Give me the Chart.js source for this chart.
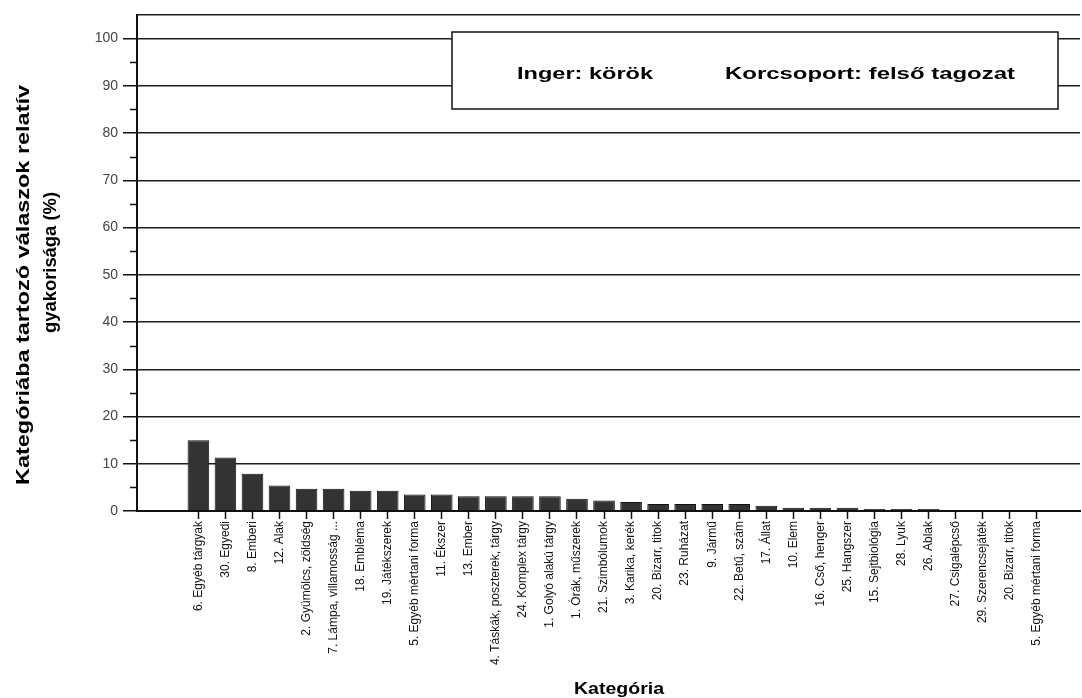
<!DOCTYPE html>
<html>
<head>
<meta charset="utf-8">
<script src="https://cdn.jsdelivr.net/npm/chart.js@4/dist/chart.umd.min.js"></script>
<style>
  html, body { margin: 0; padding: 0; background: #fff; }
  canvas { display: block; }
</style>
</head>
<body>
<canvas id="chart" width="1082" height="698"></canvas>
<script>
// Response categories, sorted by relative frequency
const categories = [
  '6. Egyéb tárgyak', '30. Egyedi', '8. Emberi', '12. Alak',
  '2. Gyümölcs, zöldség', '7. Lámpa, villamosság ...', '18. Embléma', '19. Játékszerek',
  '5. Egyéb mértani forma', '11. Ékszer', '13. Ember', '4. Táskák, poszterek, tárgy',
  '24. Komplex tárgy', '1. Golyó alakú tárgy', '1. Órák, műszerek', '21. Szimbólumok',
  '3. Karika, kerék', '20. Bizarr, titok', '23. Ruházat', '9. Jármű',
  '22. Betű, szám', '17. Állat', '10. Elem', '16. Cső, henger',
  '25. Hangszer', '15. Sejtbiológia', '28. Lyuk', '26. Ablak',
  '27. Csigalépcső', '29. Szerencsejáték', '20. Bizarr, titok', '5. Egyéb mértani forma'
];

// Relative frequency of answers in each category (%)
const frequencies = [
  15.0, 11.3, 7.9, 5.4, 4.7, 4.7, 4.3, 4.3,
  3.5, 3.5, 3.1, 3.1, 3.1, 3.1, 2.6, 2.2,
  1.9, 1.5, 1.5, 1.5, 1.5, 1.1, 0.7, 0.7,
  0.7, 0.4, 0.4, 0.4, 0, 0, 0, 0
];

const yMajorTicks = [0, 10, 20, 30, 40, 50, 60, 70, 80, 90, 100];
const yMinorTicks = [5, 15, 25, 35, 45, 55, 65, 75, 85, 95];

const stimulusLabel = 'Inger: körök';
const groupLabel = 'Korcsoport: felső tagozat';
const yTitleLines = ['Kategóriába tartozó válaszok relatív', 'gyakorisága (%)'];
const xTitle = 'Kategória';

const FONT = '"Liberation Sans", Arial, Helvetica, sans-serif';

// Draws a line of text stretched to an exact run length
function drawFitted(ctx, text, font, x, y, length, vertical) {
  ctx.save();
  ctx.font = font;
  const w = ctx.measureText(text).width;
  ctx.translate(x, y);
  if (vertical) ctx.rotate(-Math.PI / 2);
  ctx.scale(length / w, 1);
  ctx.textAlign = 'left';
  ctx.textBaseline = 'alphabetic';
  ctx.fillStyle = '#000';
  ctx.fillText(text, 0, 0);
  ctx.restore();
}

const decorations = {
  id: 'decorations',
  afterDraw(chart) {
    const ctx = chart.ctx;
    const y = chart.scales.y;

    // short minor ticks at the half-decades
    ctx.save();
    ctx.strokeStyle = '#111';
    ctx.lineWidth = 1.5;
    yMinorTicks.forEach(v => {
      const py = Math.round(y.getPixelForValue(v)) + 0.5;
      ctx.beginPath();
      ctx.moveTo(y.right - 7, py);
      ctx.lineTo(y.right, py);
      ctx.stroke();
    });
    ctx.restore();

    // info box with stimulus and age group
    ctx.save();
    ctx.fillStyle = '#fff';
    ctx.fillRect(452, 32, 606, 77);
    ctx.strokeStyle = '#111';
    ctx.lineWidth = 1.5;
    ctx.strokeRect(452, 32, 606, 77);
    ctx.restore();
    drawFitted(ctx, stimulusLabel, 'bold 16px ' + FONT, 517, 79, 136, false);
    drawFitted(ctx, groupLabel, 'bold 16px ' + FONT, 725, 79, 290, false);

    // axis titles
    drawFitted(ctx, yTitleLines[0], 'bold 19px ' + FONT, 29, 485, 400, true);
    drawFitted(ctx, yTitleLines[1], 'bold 19px ' + FONT, 56, 333, 141, true);
    drawFitted(ctx, xTitle, 'bold 16px ' + FONT, 574, 694, 90, false);
  }
};

new Chart(document.getElementById('chart'), {
  type: 'bar',
  data: {
    datasets: [{
      data: frequencies.map((v, i) => ({ x: i, y: v })),
      backgroundColor: '#333333',
      borderColor: '#111111',
      borderWidth: 1,
      barPercentage: 0.8,
      categoryPercentage: 1.0
    }]
  },
  options: {
    responsive: false,
    animation: false,
    devicePixelRatio: 1,
    layout: { padding: { top: 15, right: 2, left: 0, bottom: 0 } },
    plugins: {
      legend: { display: false },
      tooltip: { enabled: false }
    },
    scales: {
      x: {
        type: 'linear',
        offset: false,
        min: -2.27,
        max: 32.6,
        afterBuildTicks: s => { s.ticks = categories.map((_, i) => ({ value: i })); },
        afterFit: s => { s.height = 187; s.paddingLeft = 0; s.paddingRight = 0; },
        grid: { offset: false, drawOnChartArea: false, drawTicks: true, tickLength: 8, tickColor: '#111', tickWidth: 1.5 },
        border: { display: true, color: '#111', width: 2 },
        ticks: {
          autoSkip: false,
          minRotation: 90,
          maxRotation: 90,
          padding: 2,
          color: '#111',
          font: { family: FONT, size: 12 },
          callback: v => categories[v] ?? ''
        }
      },
      y: {
        min: 0,
        max: 105,
        afterBuildTicks: s => {
          s.ticks = yMajorTicks.concat([105]).map(v => ({ value: v }));
        },
        afterFit: s => { s.width = 137; s.paddingTop = 0; s.paddingBottom = 0; },
        grid: {
          color: '#1e1e1e',
          lineWidth: 1.5,
          tickLength: 14,
          tickWidth: 1.5,
          tickColor: c => (c.tick && c.tick.value <= 100) ? '#111' : 'rgba(0,0,0,0)'
        },
        border: { display: true, color: '#111', width: 2 },
        ticks: {
          autoSkip: false,
          padding: 5,
          color: '#444',
          font: { family: FONT, size: 14 },
          callback: v => (v <= 100 ? String(v) : '')
        }
      }
    }
  },
  plugins: [decorations]
});
</script>
</body>
</html>
